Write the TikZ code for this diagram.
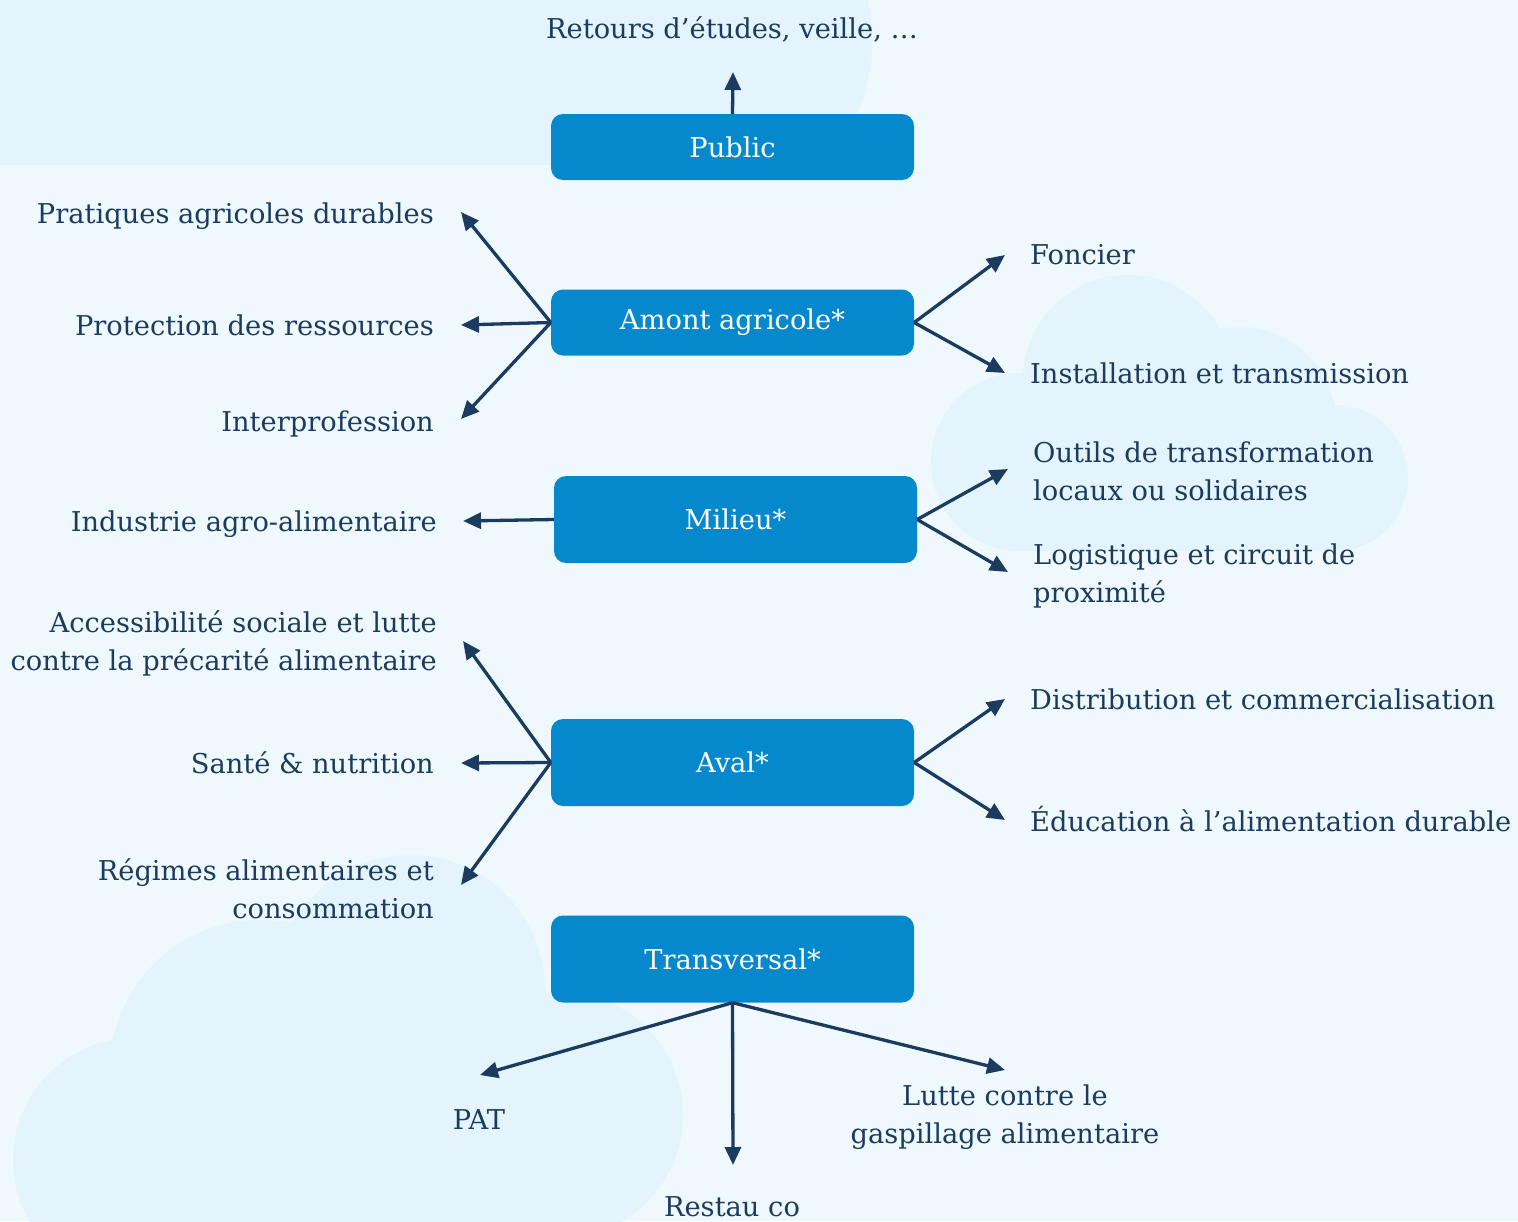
\documentclass[tikz,border=0pt]{standalone}
\usepackage{fontspec}
\setmainfont{DejaVu Serif}
\usetikzlibrary{arrows.meta}
\definecolor{bg}{HTML}{EEF8FD}
\definecolor{cloud}{HTML}{E3F4FC}
\definecolor{boxblue}{HTML}{0589CC}
\definecolor{navy}{HTML}{1B3B5F}
\begin{document}
\begin{tikzpicture}[x=1pt,y=-1pt,
  box/.style={rectangle, rounded corners=12pt, fill=boxblue, text=white, minimum width=363pt, font=\fontsize{27.3}{38}\selectfont, inner sep=0pt},
  lbl/.style={text=navy, font=\fontsize{27.3}{38}\selectfont, inner sep=0pt},
  arr/.style={draw=navy, line width=3.3pt, -{Triangle[length=18pt,width=16pt]}}
]
\useasboundingbox (0,0) rectangle (1518,1221);
\fill[bg] (0,0) rectangle (1518,1221);
% clouds
\begin{scope}
  \clip (0,0) rectangle (1518,165);
  \fill[cloud] (0,0) rectangle (822,165);
  \fill[cloud] (690,40) circle[radius=182pt];
\end{scope}
\begin{scope}
  \fill[cloud] (1020,462) circle[radius=89pt];
  \fill[cloud] (1128,380) circle[radius=105pt];
  \fill[cloud] (1240,422) circle[radius=95pt];
  \fill[cloud] (1335,478) circle[radius=73pt];
  \fill[cloud] (1020,400) rectangle (1335,551);
\end{scope}
\begin{scope}
  \clip (0,0) rectangle (1518,1221);
  \fill[cloud] (410,990) circle[radius=135pt];
  \fill[cloud] (260,1070) circle[radius=150pt];
  \fill[cloud] (135,1160) circle[radius=122pt];
  \fill[cloud] (560,1115) circle[radius=123pt];
  \fill[cloud] (135,1070) rectangle (560,1230);
\end{scope}

% boxes
\node[box, minimum height=66pt] (public) at (732.5,147) {Public};
\node[box, minimum height=66pt] (amont) at (732.5,322.5) {Amont agricole*};
\node[box, minimum height=87pt] (milieu) at (735.5,519.5) {Milieu*};
\node[box, minimum height=87pt] (aval) at (732.5,762.5) {Aval*};
\node[box, minimum height=87pt] (transv) at (732.5,959) {Transversal*};

% labels
\node[lbl, anchor=base] (retours) at (732,38) {Retours d’études, veille, …};
\node[lbl, anchor=base east] (pratiques) at (434,223) {Pratiques agricoles durables};
\node[lbl, anchor=base east] (protection) at (434,335) {Protection des ressources};
\node[lbl, anchor=base east] (interpro) at (434,431) {Interprofession};
\node[lbl, anchor=base west] (foncier) at (1030,264) {Foncier};
\node[lbl, anchor=base west] (installation) at (1030,383) {Installation et transmission};
\node[lbl, anchor=base east] (industrie) at (437,531) {Industrie agro-alimentaire};
\node[lbl, anchor=west, align=left] (outils) at (1033,471) {Outils de transformation\\locaux ou solidaires};
\node[lbl, anchor=west, align=left] (logistique) at (1033,576) {Logistique et circuit de\\proximité};
\node[lbl, anchor=east, align=right] (access) at (437,643) {Accessibilité sociale et lutte\\contre la précarité alimentaire};
\node[lbl, anchor=base east] (sante) at (434,773) {Santé \& nutrition};
\node[lbl, anchor=east, align=right] (regimes) at (434,889) {Régimes alimentaires et\\consommation};
\node[lbl, anchor=base west] (distrib) at (1030,709) {Distribution et commercialisation};
\node[lbl, anchor=base west] (educ) at (1030,831) {Éducation à l’alimentation durable};
\node[lbl, anchor=base] (pat) at (479,1129) {PAT};
\node[lbl, anchor=base] (restau) at (732,1216) {Restau co};
\node[lbl, align=center] (lutte) at (1005,1117) {Lutte contre le\\gaspillage alimentaire};

% arrow end points
\coordinate (cRet) at (733,72);
\coordinate (cPra) at (461,212);
\coordinate (cPro) at (461,325);
\coordinate (cInt) at (461,419);
\coordinate (cFon) at (1005,255);
\coordinate (cIns) at (1005,373);
\coordinate (cInd) at (463,521);
\coordinate (cOut) at (1008,469);
\coordinate (cLog) at (1008,572);
\coordinate (cAcc) at (463,641);
\coordinate (cSan) at (461,763);
\coordinate (cReg) at (461,885);
\coordinate (cDis) at (1005,699);
\coordinate (cEdu) at (1005,820);
\coordinate (cPat) at (480,1075);
\coordinate (cRes) at (733,1165);
\coordinate (cLut) at (1005,1070);

% connectors
\draw[arr] (public.north) -- (cRet);
\draw[arr] (amont.west) -- (cPra);
\draw[arr] (amont.west) -- (cPro);
\draw[arr] (amont.west) -- (cInt);
\draw[arr] (amont.east) -- (cFon);
\draw[arr] (amont.east) -- (cIns);
\draw[arr] (milieu.west) -- (cInd);
\draw[arr] (milieu.east) -- (cOut);
\draw[arr] (milieu.east) -- (cLog);
\draw[arr] (aval.west) -- (cAcc);
\draw[arr] (aval.west) -- (cSan);
\draw[arr] (aval.west) -- (cReg);
\draw[arr] (aval.east) -- (cDis);
\draw[arr] (aval.east) -- (cEdu);
\draw[arr] (transv.south) -- (cPat);
\draw[arr] (transv.south) -- (cRes);
\draw[arr] (transv.south) -- (cLut);
\end{tikzpicture}
\end{document}
